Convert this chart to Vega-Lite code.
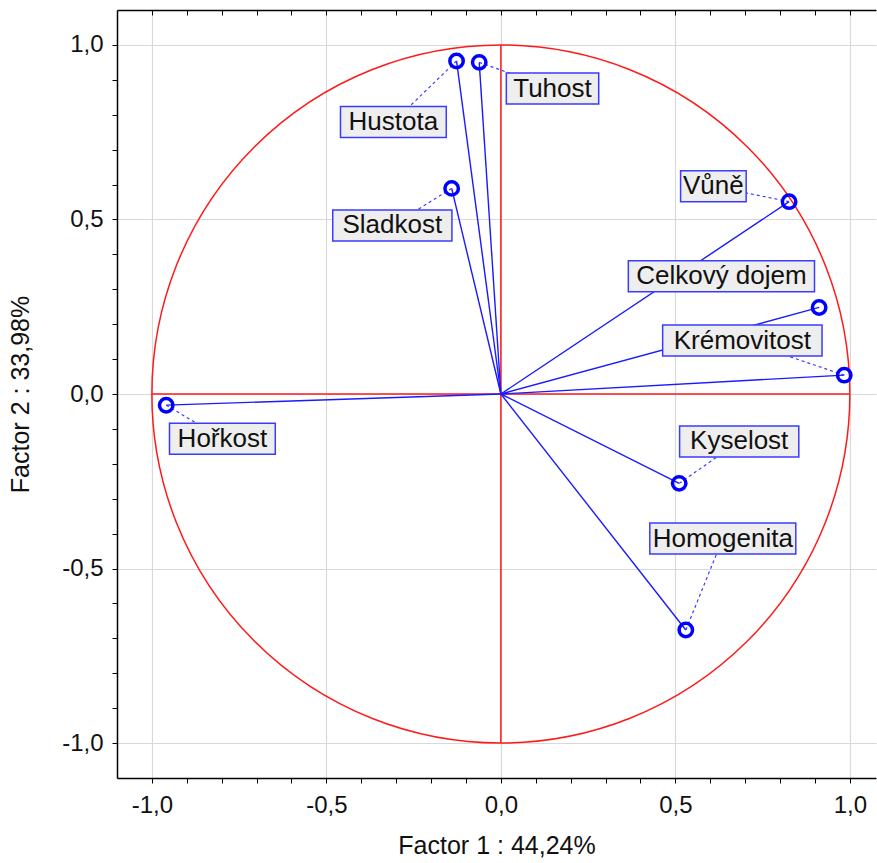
{
  "$schema": "https://vega.github.io/schema/vega-lite/v6.json",
  "width": 759,
  "height": 768,
  "autosize": "none",
  "padding": {"left": 117, "top": 10, "right": 1, "bottom": 85},
  "background": "white",
  "config": {
    "view": {"stroke": null},
    "font": "Liberation Sans",
    "axis": {
      "domainColor": "#000",
      "domainWidth": 1.5,
      "tickColor": "#000",
      "tickWidth": 1,
      "tickSize": 5,
      "labelFont": "Liberation Sans",
      "labelFontSize": 24,
      "labelColor": "#111",
      "labelOverlap": false,
      "labelFlush": false,
      "titleFont": "Liberation Sans",
      "titleFontSize": 25,
      "titleFontWeight": "normal",
      "titleColor": "#111"
    }
  },
  "datasets": {
    "loadings": [
      {"variable": "Hustota", "x": -0.127, "y": 0.954, "lx": -0.308, "ly": 0.779},
      {"variable": "Tuhost", "x": -0.062, "y": 0.95, "lx": 0.148, "ly": 0.875},
      {"variable": "Sladkost", "x": -0.141, "y": 0.589, "lx": -0.311, "ly": 0.483},
      {"variable": "Vůně", "x": 0.826, "y": 0.551, "lx": 0.609, "ly": 0.595},
      {"variable": "Celkový dojem", "x": 0.912, "y": 0.248, "lx": 0.632, "ly": 0.337},
      {"variable": "Krémovitost", "x": 0.984, "y": 0.054, "lx": 0.692, "ly": 0.153},
      {"variable": "Hořkost", "x": -0.959, "y": -0.032, "lx": -0.798, "ly": -0.128},
      {"variable": "Kyselost", "x": 0.511, "y": -0.256, "lx": 0.683, "ly": -0.136},
      {"variable": "Homogenita", "x": 0.53, "y": -0.676, "lx": 0.636, "ly": -0.414}
    ]
  },
  "data": {"name": "loadings"},
  "resolve": {"axis": {"x": "independent", "y": "independent"}},
  "layer": [
    {
      "data": {"values": [{"circle": "unit"}]},
      "mark": {"type": "point", "shape": "circle", "filled": false, "stroke": "#ff1a1a", "strokeWidth": 1.5, "opacity": 1, "size": 487204},
      "encoding": {
        "x": {
          "datum": 0, "type": "quantitative",
          "scale": {"domain": [-1.1, 1.075], "nice": false, "zero": false},
          "axis": {
            "orient": "bottom",
            "values": [-1, -0.9, -0.8, -0.7, -0.6, -0.5, -0.4, -0.3, -0.2, -0.1, 0, 0.1, 0.2, 0.3, 0.4, 0.5, 0.6, 0.7, 0.8, 0.9, 1],
            "title": "Factor 1 : 44,24%",
            "grid": true,
            "gridColor": "#d9d9d9",
            "gridWidth": 1.2,
            "gridOpacity": {"condition": {"test": "abs(datum.value*2-round(datum.value*2))<0.001", "value": 1}, "value": 0},
            "labelExpr": "abs(datum.value*2-round(datum.value*2))<0.001 ? replace((datum.value < -0.001 ? '-' : '') + format(abs(datum.value), '.1f'), '.', ',') : ''",
            "labelPadding": 10,
            "titlePadding": 16
          }
        },
        "y": {
          "datum": 0, "type": "quantitative",
          "scale": {"domain": [-1.1, 1.1], "nice": false, "zero": false},
          "axis": {
            "orient": "left",
            "values": [-1, -0.9, -0.8, -0.7, -0.6, -0.5, -0.4, -0.3, -0.2, -0.1, 0, 0.1, 0.2, 0.3, 0.4, 0.5, 0.6, 0.7, 0.8, 0.9, 1],
            "title": "Factor 2 : 33,98%",
            "grid": true,
            "gridColor": "#d9d9d9",
            "gridWidth": 1.2,
            "gridOpacity": {"condition": {"test": "abs(datum.value*2-round(datum.value*2))<0.001", "value": 1}, "value": 0},
            "labelExpr": "abs(datum.value*2-round(datum.value*2))<0.001 ? replace((datum.value < -0.001 ? '-' : '') + format(abs(datum.value), '.1f'), '.', ',') : ''",
            "labelPadding": 9,
            "titlePadding": 28
          }
        }
      }
    },
    {
      "data": {"values": [{"line": "horizontal"}]},
      "mark": {"type": "rule", "color": "#ff1a1a", "strokeWidth": 1.5},
      "encoding": {
        "x": {
          "datum": -1, "type": "quantitative",
          "scale": {"domain": [-1.1, 1.075], "nice": false, "zero": false},
          "axis": {
            "orient": "top",
            "values": [-1, -0.9, -0.8, -0.7, -0.6, -0.5, -0.4, -0.3, -0.2, -0.1, 0, 0.1, 0.2, 0.3, 0.4, 0.5, 0.6, 0.7, 0.8, 0.9, 1],
            "labels": false,
            "title": null,
            "grid": false,
            "tickSize": -5
          }
        },
        "x2": {"datum": 1},
        "y": {"datum": 0, "type": "quantitative", "scale": {"domain": [-1.1, 1.1], "nice": false, "zero": false}, "axis": null}
      }
    },
    {
      "data": {"values": [{"line": "vertical"}]},
      "mark": {"type": "rule", "color": "#ff1a1a", "strokeWidth": 1.5},
      "encoding": {
        "x": {"datum": 0, "type": "quantitative", "scale": {"domain": [-1.1, 1.075], "nice": false, "zero": false}, "axis": null},
        "y": {"datum": -1, "type": "quantitative", "scale": {"domain": [-1.1, 1.1], "nice": false, "zero": false}, "axis": null},
        "y2": {"datum": 1}
      }
    },
    {
      "mark": {"type": "rule", "color": "#1a1aff", "strokeWidth": 1.4},
      "encoding": {
        "x": {"field": "x", "type": "quantitative", "scale": {"domain": [-1.1, 1.075], "nice": false, "zero": false}, "axis": null},
        "y": {"field": "y", "type": "quantitative", "scale": {"domain": [-1.1, 1.1], "nice": false, "zero": false}, "axis": null},
        "x2": {"datum": 0},
        "y2": {"datum": 0}
      }
    },
    {
      "transform": [{"filter": "datum.variable != 'Celkový dojem'"}],
      "mark": {"type": "rule", "color": "#3b3bff", "strokeWidth": 1.2, "strokeDash": [3, 3]},
      "encoding": {
        "x": {"field": "x", "type": "quantitative", "scale": {"domain": [-1.1, 1.075], "nice": false, "zero": false}, "axis": null},
        "y": {"field": "y", "type": "quantitative", "scale": {"domain": [-1.1, 1.1], "nice": false, "zero": false}, "axis": null},
        "x2": {"field": "lx"},
        "y2": {"field": "ly"}
      }
    },
    {
      "transform": [
        {"calculate": "(length(datum.variable)*13.4+12)/2/349", "as": "hw"},
        {"calculate": "datum.lx - datum.hw", "as": "bx1"},
        {"calculate": "datum.lx + datum.hw", "as": "bx2"},
        {"calculate": "datum.ly - 0.0444", "as": "by1"},
        {"calculate": "datum.ly + 0.0444", "as": "by2"}
      ],
      "mark": {"type": "rect", "fill": "#eeeeee", "stroke": "#3b3bff", "strokeWidth": 1.5},
      "encoding": {
        "x": {"field": "bx1", "type": "quantitative", "scale": {"domain": [-1.1, 1.075], "nice": false, "zero": false}, "axis": null},
        "x2": {"field": "bx2"},
        "y": {"field": "by1", "type": "quantitative", "scale": {"domain": [-1.1, 1.1], "nice": false, "zero": false}, "axis": null},
        "y2": {"field": "by2"}
      }
    },
    {
      "mark": {"type": "text", "font": "Liberation Sans", "fontSize": 26, "color": "#111", "align": "center", "baseline": "middle"},
      "encoding": {
        "x": {"field": "lx", "type": "quantitative", "scale": {"domain": [-1.1, 1.075], "nice": false, "zero": false}, "axis": null},
        "y": {"field": "ly", "type": "quantitative", "scale": {"domain": [-1.1, 1.1], "nice": false, "zero": false}, "axis": null},
        "text": {"field": "variable", "type": "nominal"}
      }
    },
    {
      "mark": {"type": "point", "shape": "circle", "filled": false, "stroke": "#0000ff", "strokeWidth": 3.5, "opacity": 1, "size": 180},
      "encoding": {
        "x": {"field": "x", "type": "quantitative", "scale": {"domain": [-1.1, 1.075], "nice": false, "zero": false}, "axis": null},
        "y": {"field": "y", "type": "quantitative", "scale": {"domain": [-1.1, 1.1], "nice": false, "zero": false}, "axis": null}
      }
    }
  ]
}
